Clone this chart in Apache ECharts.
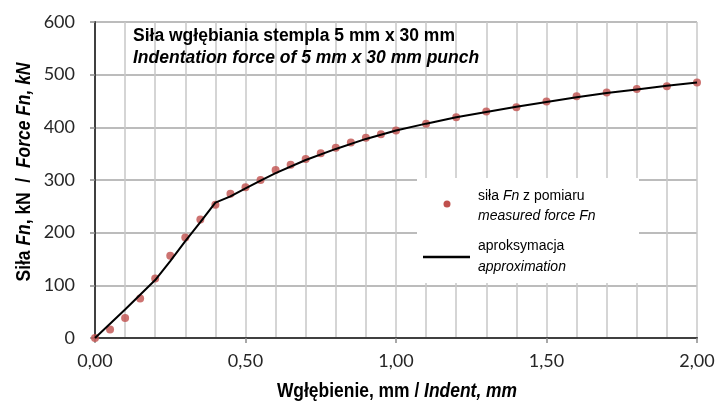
<!DOCTYPE html>
<html>
<head>
<meta charset="utf-8">
<script src="https://cdn.jsdelivr.net/npm/echarts@6/dist/echarts.min.js"></script>
<style>
  html, body { margin: 0; background: #fff; }
  #chart { width: 718px; height: 404px; }
</style>
</head>
<body>
<div id="chart"></div>
<script>
// measured points (mm, kN)
const indentMeasured = [0, 0.05, 0.10, 0.15, 0.20, 0.25, 0.30, 0.35, 0.40, 0.45, 0.50, 0.55, 0.60, 0.65, 0.70, 0.75, 0.80, 0.85, 0.90, 0.95, 1.00,
  1.10, 1.20, 1.30, 1.40, 1.50, 1.60, 1.70, 1.80, 1.90, 2.00];
const forceMeasured = [0, 16, 38, 75, 113, 156, 191, 225, 253, 274, 286, 300, 319, 329, 340, 351, 361, 371, 380, 387, 394,
  407, 419, 430, 438, 449, 459, 466, 473, 478, 485];

// approximation curve
const indentApprox = [0, 0.10, 0.20, 0.25, 0.30, 0.35, 0.40, 0.45, 0.50, 0.55, 0.60, 0.70, 0.80, 0.90, 1.00,
  1.10, 1.20, 1.30, 1.40, 1.50, 1.60, 1.70, 1.80, 1.90, 2.00];
const forceApprox = [0, 54, 110, 146, 184, 220, 257, 269, 284, 299, 313, 338, 359, 378, 394,
  407, 419, 429, 439, 448, 457, 465, 472, 479, 485];

// axes
const xMin = 0, xMax = 2, xStep = 0.5;
const yMin = 0, yMax = 600, yStep = 100;

const titleLines = ['Siła wgłębiania stempla 5 mm x 30 mm', 'Indentation force of 5 mm x 30 mm punch'];

const RED = '#c0504d';
const sans = "'Liberation Sans', Arial, sans-serif";

const chart = echarts.init(document.getElementById('chart'));

const fmt = v => v.toFixed(2).replace('.', ',');

// bold axis names, squeezed a bit to look like a narrow face
const nameRich = {
  b: { fontFamily: sans, fontSize: 21, fontWeight: 'bold', color: '#000' },
  bi: { fontFamily: sans, fontSize: 21, fontWeight: 'bold', fontStyle: 'italic', color: '#000' }
};

chart.setOption({
  animation: false,
  backgroundColor: '#fff',
  grid: { left: 95, right: 21, top: 22, bottom: 66 },
  xAxis: [{
    type: 'value', min: xMin, max: xMax, interval: xStep,
    axisLine: { lineStyle: { color: '#8c8c8c', width: 1.5 } },
    axisTick: { show: true, inside: false, length: 5, lineStyle: { color: '#8c8c8c', width: 1.5 } },
    axisLabel: { formatter: fmt, color: '#262626', fontFamily: 'Lato', fontSize: 18, margin: 14 },
    splitLine: { show: true, lineStyle: { color: '#c8c8c8', width: 1.5 } },
    minorTick: { show: false, splitNumber: 5 },
    minorSplitLine: { show: true, lineStyle: { color: '#c8c8c8', width: 1.5 } }
  }, {
    type: 'value', min: xMin, max: xMax, position: 'top',
    axisLine: { show: true, lineStyle: { color: '#404040', width: 2 } },
    axisTick: { show: false }, axisLabel: { show: false }, splitLine: { show: false }
  }],
  yAxis: [{
    type: 'value', min: yMin, max: yMax, interval: yStep,
    axisLine: { show: true, lineStyle: { color: '#8c8c8c', width: 1.5 } },
    axisTick: { show: true, inside: false, length: 5, lineStyle: { color: '#8c8c8c', width: 1.5 } },
    axisLabel: { color: '#262626', fontFamily: 'Lato', fontSize: 18, margin: 20 },
    splitLine: { show: true, lineStyle: { color: '#a6a6a6', width: 1.5 } }
  }, {
    type: 'value', min: yMin, max: yMax, position: 'right',
    axisLine: { show: true, lineStyle: { color: '#404040', width: 2 } },
    axisTick: { show: false }, axisLabel: { show: false }, splitLine: { show: false }
  }],
  series: [{
    name: 'measured',
    type: 'scatter',
    data: indentMeasured.map((x, i) => [x, forceMeasured[i]]),
    symbolSize: 8,
    itemStyle: { color: RED },
    z: 3
  }, {
    name: 'approximation',
    type: 'line',
    data: indentApprox.map((x, i) => [x, forceApprox[i]]),
    showSymbol: false,
    lineStyle: { color: '#000', width: 2 },
    z: 4
  }],
  graphic: [
    // chart title inside plot
    {
      type: 'text', left: 133, top: 27, z: 10,
      style: {
        text: '{b|' + titleLines[0] + '}\n{bi|' + titleLines[1] + '}',
        rich: {
          b: { fontFamily: sans, fontSize: 17.5, fontWeight: 'bold', color: '#000', lineHeight: 22 },
          bi: { fontFamily: sans, fontSize: 17.5, fontWeight: 'bold', fontStyle: 'italic', color: '#000', lineHeight: 22 }
        }
      }
    },
    // legend box
    {
      type: 'rect', z: 20,
      shape: { x: 417, y: 178, width: 222, height: 105 },
      style: { fill: '#fff' }
    },
    { type: 'circle', z: 21, shape: { cx: 447, cy: 204, r: 3.5 }, style: { fill: RED } },
    { type: 'line', z: 21, shape: { x1: 423, y1: 257, x2: 470, y2: 257 }, style: { stroke: '#000', lineWidth: 2.5 } },
    {
      type: 'text', z: 21, x: 478, y: 186,
      style: {
        text: '{n|siła }{i|Fn}{n| z pomiaru}\n{i|measured force Fn}',
        rich: {
          n: { fontFamily: sans, fontSize: 14, color: '#000', lineHeight: 20 },
          i: { fontFamily: sans, fontSize: 14, fontStyle: 'italic', color: '#000', lineHeight: 20 }
        }
      }
    },
    {
      type: 'text', z: 21, x: 478, y: 236,
      style: {
        text: '{n|aproksymacja}\n{i|approximation}',
        rich: {
          n: { fontFamily: sans, fontSize: 14, color: '#000', lineHeight: 21 },
          i: { fontFamily: sans, fontSize: 14, fontStyle: 'italic', color: '#000', lineHeight: 21 }
        }
      }
    },
    // axis names
    {
      type: 'text', z: 10, x: 397, y: 391, scaleX: 0.83,
      style: {
        text: '{b|Wgłębienie, mm / }{bi|Indent, mm}',
        align: 'center', verticalAlign: 'middle',
        rich: nameRich
      }
    },
    {
      type: 'text', z: 10, x: 24, y: 172, rotation: Math.PI / 2, scaleX: 0.83,
      style: {
        text: '{b|Siła }{bi|Fn}{b|, kN  /  }{bi|Force Fn, kN}',
        align: 'center', verticalAlign: 'middle',
        rich: nameRich
      }
    }
  ]
});
</script>
</body>
</html>
